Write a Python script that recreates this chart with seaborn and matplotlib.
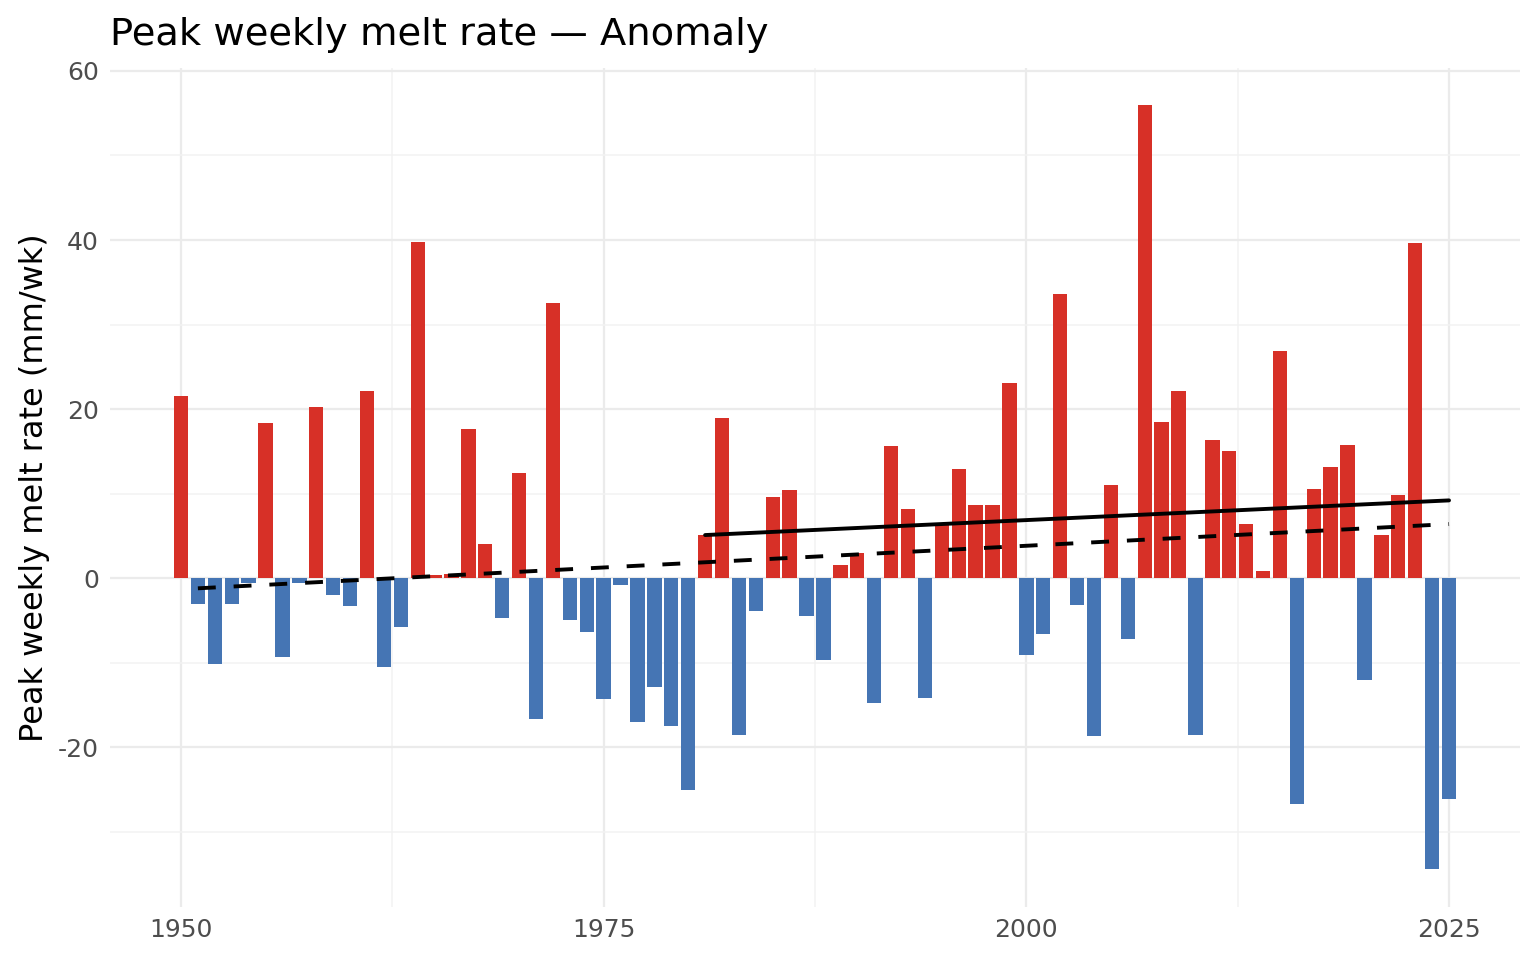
import numpy as np
import pandas as pd
import matplotlib
matplotlib.use("Agg")
import matplotlib.pyplot as plt
import seaborn as sns
from matplotlib.ticker import MultipleLocator

# Data
years = list(range(1950, 2026))
anomaly = [
    21.5, -3.0, -10.2, -3.0, -0.6, 18.3, -9.3, -0.6, 20.2, -2.0,
    -3.3, 22.2, -10.5, -5.8, 39.8, 0.35, 0.5, 17.6, 4.0, -4.7,
    12.5, -16.7, 32.5, -5.0, -6.4, -14.3, -0.8, -17.0, -12.9, -17.5,
    -25.0, 5.1, 18.9, -18.6, -3.9, 9.6, 10.4, -4.5, -9.7, 1.6,
    3.0, -14.8, 15.6, 8.2, -14.2, 6.5, 12.9, 8.6, 8.6, 23.1,
    -9.1, -6.6, 33.6, -3.2, -18.7, 11.0, -7.2, 56.0, 18.5, 22.2,
    -18.6, 16.3, 15.0, 6.4, 0.9, 26.9, -26.7, 10.5, 13.1, 15.7,
    -12.0, 5.1, 9.8, 39.7, -34.4, -26.1,
]
# trend lines (endpoints)
trend_all_years = [1951, 2025]
trend_all_vals = [-1.2, 6.4]
trend_recent_years = [1981, 2025]
trend_recent_vals = [5.1, 9.2]

df = pd.DataFrame({"year": years, "anomaly": anomaly})
df["sign"] = np.where(df["anomaly"] >= 0, "pos", "neg")

sns.set_style("white")
plt.rcParams["font.family"] = ["DejaVu Sans"]
plt.rcParams["axes.unicode_minus"] = False

fig = plt.figure(figsize=(7.68, 4.8), dpi=200)
ax = fig.add_axes([0.0716, 0.0552, 0.918, 0.8744])

sns.barplot(data=df, x="year", y="anomaly", hue="sign",
            palette={"pos": "#D73027", "neg": "#4575B4"},
            native_scale=True, width=0.85, dodge=False,
            errorbar=None, legend=False, saturation=1, linewidth=0,
            ax=ax, zorder=2)

sns.lineplot(x=trend_all_years, y=trend_all_vals, color="black", lw=1.4,
             dashes=False, ax=ax, zorder=3).lines[-1].set_dashes((4.6, 4.6))
sns.lineplot(x=trend_recent_years, y=trend_recent_vals, color="black", lw=1.4,
             ax=ax, zorder=3)

ax.set_xlim(1945.8, 2029.2)
ax.set_ylim(-38.9, 60.4)
ax.xaxis.set_major_locator(MultipleLocator(25))
ax.xaxis.set_minor_locator(MultipleLocator(12.5))
ax.yaxis.set_major_locator(MultipleLocator(20))
ax.yaxis.set_minor_locator(MultipleLocator(10))
ax.grid(which="major", color="#EBEBEB", lw=0.8, zorder=0)
ax.grid(which="minor", color="#F2F2F2", lw=0.55, zorder=0)
ax.set_axisbelow(True)
for s in ax.spines.values():
    s.set_visible(False)
ax.tick_params(which="both", length=0, labelsize=9, labelcolor="#4D4D4D", pad=4)

ax.set_xlabel("")
ax.set_ylabel("Peak weekly melt rate (mm/wk)", fontsize=11.5, color="black", labelpad=3)
ax.set_title("Peak weekly melt rate — Anomaly", fontsize=13.8, loc="left", pad=8, color="black")

fig.savefig("out.png", dpi=200)
